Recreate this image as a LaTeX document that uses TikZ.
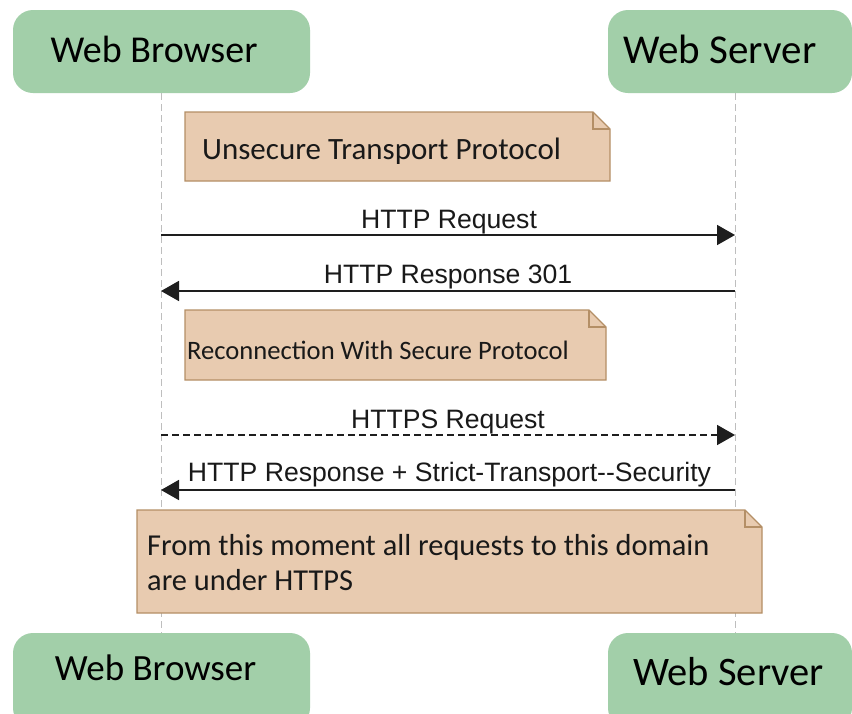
\documentclass[tikz,border=0pt]{standalone}
\usepackage{fontspec}
\setmainfont{Carlito}
\newfontfamily\arialf{Liberation Sans}
\usetikzlibrary{arrows.meta}
\definecolor{actorfill}{RGB}{162,207,169}
\definecolor{notefill}{RGB}{232,203,176}
\definecolor{notedraw}{RGB}{180,143,102}
\definecolor{lifegray}{RGB}{190,190,190}
\definecolor{msggray}{RGB}{30,30,30}
\tikzset{
  actorbox/.style={fill=actorfill, draw=none, rounded corners=20pt, inner sep=0pt},
  actortext/.style={anchor=base, inner sep=0pt, text=black},
  lifeline/.style={draw=lifegray, line width=1pt, dash pattern=on 7pt off 4pt},
  notestyle/.style={fill=notefill, draw=notedraw, line width=1.3pt, line join=miter},
  notetext/.style={anchor=base west, inner sep=0pt, text=black!90, align=left},
  msg/.style={draw=msggray, line width=1.8pt, -{Triangle[length=18pt,width=20pt]}},
  msgdash/.style={msg, dash pattern=on 7pt off 4pt},
  msglabel/.style={anchor=base, inner sep=0pt, font=\arialf\fontsize{26.6}{29}\selectfont, text=black!90}
}
\newcommand\drawnote[4]{%
  \filldraw[notestyle] (#1,#2) -- ({#3-17},#2) -- (#3,{#2+17}) -- (#3,#4) -- (#1,#4) -- cycle;
  \draw[notestyle, fill=none] ({#3-17},#2) -- ({#3-17},{#2+17}) -- (#3,{#2+17});}
\begin{document}
\begin{tikzpicture}[x=1pt,y=-1pt]
\useasboundingbox[fill=white] (0,0) rectangle (852,713);
% actor boxes
\node[actorbox, minimum width=297pt, minimum height=83pt] (tb) at (161.5,51.5) {};
\node[actorbox, minimum width=244pt, minimum height=83pt] (ts) at (730,51.5) {};
\node[actorbox, minimum width=297pt, minimum height=95pt] (bb) at (161.5,680.5) {};
\node[actorbox, minimum width=244pt, minimum height=95pt] (bs) at (730,680.5) {};
\node[actortext, font=\fontsize{38}{40}\selectfont] (tbt) at (154,62) {Web Browser};
\node[actortext, font=\fontsize{41}{43}\selectfont] (tst) at (720,63) {Web Server};
\node[actortext, font=\fontsize{37}{40}\selectfont] (bbt) at (155.5,680) {Web Browser};
\node[actortext, font=\fontsize{40.5}{43}\selectfont] (bst) at (728.5,685) {Web Server};
% lifelines
\coordinate (lbt) at (161,93);
\coordinate (lbb) at (161,633);
\coordinate (lst) at (735,93);
\coordinate (lsb) at (735,633);
\draw[lifeline] (lbt) -- (lbb);
\draw[lifeline] (lst) -- (lsb);
% notes
\drawnote{185}{112}{610}{181}
\drawnote{185}{310}{606}{380}
\drawnote{137}{510}{762}{613}
\node[notetext, font=\fontsize{31}{34}\selectfont] (n1) at (202,159) {Unsecure Transport Protocol};
\node[notetext, font=\fontsize{26.6}{30}\selectfont] (n2) at (187,359) {Reconnection With Secure Protocol};
\node[notetext, font=\fontsize{30.4}{35}\selectfont, anchor=north west] (n3) at (147,534) {From this moment all requests to this domain\\are under HTTPS};
% messages
\coordinate (b1) at (161,235);
\coordinate (s1) at (735,235);
\coordinate (b2) at (161,291);
\coordinate (s2) at (735,291);
\coordinate (b3) at (161,435);
\coordinate (s3) at (735,435);
\coordinate (b4) at (161,490);
\coordinate (s4) at (735,490);
\draw[msg] (b1) -- (s1);
\draw[msg] (s2) -- (b2);
\draw[msgdash] (b3) -- (s3);
\draw[msg] (s4) -- (b4);
\node[msglabel] (m1) at (449,228) {HTTP Request};
\node[msglabel] (m2) at (448,283) {HTTP Response 301};
\node[msglabel] (m3) at (448,428) {HTTPS Request};
\node[msglabel] (m4) at (449.5,481) {HTTP Response + Strict-Transport--Security};
\end{tikzpicture}
\end{document}
